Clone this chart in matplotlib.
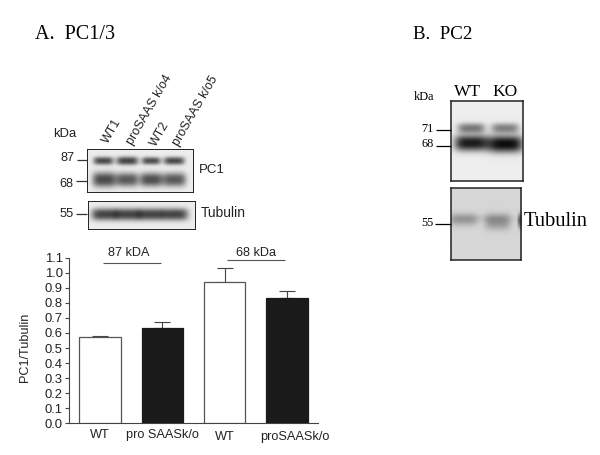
import numpy as np
import matplotlib
matplotlib.use("Agg")
import matplotlib.pyplot as plt
from matplotlib.transforms import ScaledTranslation

W, H = 600, 455
SANS = "Liberation Sans"
SERIF = "Liberation Serif"

# Bar chart data
categories = ["WT", "pro SAASk/o", "WT", "proSAASk/o"]
values = [0.57, 0.635, 0.94, 0.83]
errors = [0.01, 0.035, 0.09, 0.05]
bar_colors = ["white", "#1a1a1a", "white", "#1a1a1a"]
y_ticks = [0.0, 0.1, 0.2, 0.3, 0.4, 0.5, 0.6, 0.7, 0.8, 0.9, 1.0, 1.1]

# Blot bands: x centre, y centre, half width, half height, darkness (pixels within the figure)
pc1_bands = [(103, 161, 10, 4.0, .64), (127, 161, 11, 4.2, .66), (151, 161, 9.5, 3.8, .62), (174, 161, 10.5, 4.0, .64),
             (104, 180, 12, 7.5, .64), (127, 180, 11.5, 7.0, .58), (151, 180, 11.5, 7.0, .62), (174, 180, 12, 7.0, .58)]
tub1_bands = [(104, 215, 13, 6.0, .66), (127, 215, 13, 6.0, .66), (150, 215, 13, 6.0, .66), (174, 215, 13.5, 6.0, .66)]
pc2_bands = [(471, 128, 14, 5, .45), (505, 128, 14, 5, .42), (471, 143, 17, 8, .82), (505, 144, 18, 8.5, .88)]
tub2_bands = [(463, 220, 14, 6.5, .20), (497, 222, 13, 8, .26), (520, 221, 3, 7, .45), (480, 219, 38, 4, .06)]

fig = plt.figure(figsize=(W / 100, H / 100), dpi=100, facecolor="white")


def px_axes(x0, y0, x1, y1, **kw):
    return fig.add_axes([x0 / W, 1 - y1 / H, (x1 - x0) / W, (y1 - y0) / H], **kw)


# Bar chart
ax = px_axes(69.3, 257.7, 318, 423.3)
x = np.arange(len(values))
ax.bar(x, values, width=0.666, color=bar_colors, edgecolor=["#555555", "#1a1a1a", "#555555", "#1a1a1a"], linewidth=0.9, zorder=3)
ax.errorbar(x, values, yerr=[np.zeros(len(errors)), errors], fmt="none", ecolor="#444444",
            elinewidth=0.8, capsize=5.8, capthick=0.8, zorder=2)
ax.set_xlim(-0.493, 3.5)
ax.set_ylim(0, 1.1)
ax.set_yticks(y_ticks)
ax.set_yticklabels([f"{v:.1f}" for v in y_ticks], fontfamily=SANS, fontsize=9.4, color="#222222")
ax.set_xticks(x)
ax.set_xticklabels(categories, fontfamily=SANS, fontsize=9.2, color="#222222")
ax.tick_params(axis="y", length=3.2, width=0.8, color="#444444", pad=1.5)
ax.tick_params(axis="x", length=0, pad=4)
for lab, (dx, dy) in zip(ax.get_xticklabels(), [(0, 0), (0, 0), (0, -1.5), (6, -1.5)]):
    lab.set_transform(lab.get_transform() + ScaledTranslation(dx / 72, dy / 72, fig.dpi_scale_trans))
for s in ("top", "right"):
    ax.spines[s].set_visible(False)
for s in ("left", "bottom"):
    ax.spines[s].set_color("#444444")
    ax.spines[s].set_linewidth(0.8)
ax.patch.set_alpha(0)


def blot(box, bands, bg, lw):
    x0, y0, x1, y1 = box
    a = px_axes(x0, y0, x1, y1)
    xs = np.linspace(x0, x1, int((x1 - x0) * 2))
    ys = np.linspace(y0, y1, int((y1 - y0) * 2))
    X, Y = np.meshgrid(xs, ys)
    D = np.zeros_like(X)
    for cx, cy, wx, wy, d in bands:
        D += d * np.exp(-np.abs((X - cx) / wx) ** 4 - np.abs((Y - cy) / wy) ** 2.4)
    img = np.clip(bg - D, 0, 1)
    a.imshow(img, cmap="gray", vmin=0, vmax=1, extent=(x0, x1, y1, y0), aspect="auto", interpolation="bilinear")
    a.set_xticks([])
    a.set_yticks([])
    for s in a.spines.values():
        s.set_linewidth(lw)
        s.set_color("#222222")


blot((86.7, 149.3, 192.7, 192.3), pc1_bands, 0.93, 0.7)
blot((87.7, 201, 195, 229.3), tub1_bands, 0.93, 0.7)
blot((450.7, 101, 522.7, 181), pc2_bands, 0.93, 1.1)
blot((450.7, 187.7, 521, 260), tub2_bands, 0.84, 1.1)

# Overlay in pixel coordinates for annotations
ov = fig.add_axes([0, 0, 1, 1], facecolor="none")
ov.set_xlim(0, W)
ov.set_ylim(H, 0)
ov.axis("off")


def t(px, py, s, fam=SANS, size=8, color="#222222", ha="center", rot=0):
    ov.text(px, py, s, family=fam, fontsize=size, color=color, ha=ha, va="center", rotation=rot)


def seg(x0, y0, x1, y1, lw=0.9, color="#333333"):
    ov.plot([x0, x1], [y0, y1], color=color, lw=lw, solid_capstyle="butt")


# Panel titles
t(35, 34.5, "A.  PC1/3", SERIF, 14.5, "black", "left")
t(413, 34.5, "B.  PC2", SERIF, 13.6, "black", "left")

# Panel A blot annotations
t(65, 134, "kDa", size=9.4)
t(67.5, 158, "87", size=9.2)
t(66, 184, "68", size=9.2)
t(67, 214, "55", size=9.2)
seg(77, 160, 87, 160)
seg(76, 181, 87, 181)
seg(76, 214, 87, 214)
t(199, 170, "PC1", size=9.5, ha="left")
t(200.5, 213, "Tubulin", size=9.9, ha="left")
for cx, cy, s in [(112, 131.5, "WT1"), (150, 110, "proSAAS k/o4"), (160, 134.5, "WT2"), (195, 110.5, "proSAAS k/o5")]:
    t(cx, cy, s, size=9.0, rot=60)

# Group labels
t(128.3, 253.3, "87 kDA", size=9.1)
t(255.7, 253, "68 kDa", size=9.1)
seg(102.7, 263, 161, 263, 0.8, "#555555")
seg(226.7, 260.3, 285, 260.3, 0.8, "#555555")
t(25, 347, "PC1/Tubulin", size=9.1, rot=90)

# Panel B annotations
t(424, 97, "kDa", SERIF, 8.8, "black")
t(467.5, 92, "WT", SERIF, 12.5, "black")
t(505.5, 92, "KO", SERIF, 12.5, "black")
t(427.5, 129, "71", SERIF, 8.8, "black")
t(427.5, 144, "68", SERIF, 8.8, "black")
t(427.5, 223, "55", SERIF, 8.8, "black")
seg(436, 130, 451, 130, 0.9, "black")
seg(436, 146, 451, 146, 0.9, "black")
seg(435, 224, 451, 224, 0.9, "black")
t(524, 221, "Tubulin", SERIF, 14.8, "black", "left")

fig.savefig("out.png", dpi=100, facecolor="white")
